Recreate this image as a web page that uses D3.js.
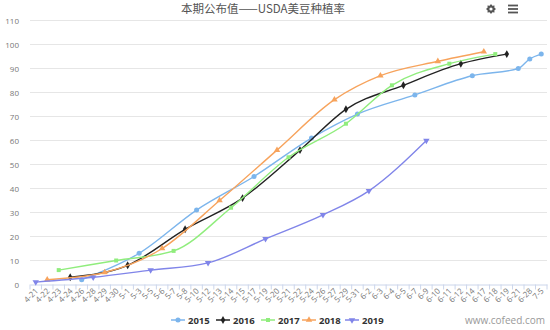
<!DOCTYPE html>
<html><head><meta charset="utf-8">
<script src="https://cdn.jsdelivr.net/npm/d3@7"></script>
<style>html,body{margin:0;padding:0;background:#fff;}svg{display:block;}</style>
</head><body>
<svg id="chart" width="550" height="330"></svg>
<script>
const categories = ["4-21","4-22","4-23","4-24","4-26","4-28","4-29","4-30","5-1","5-3","5-5","5-6","5-7","5-8","5-10","5-12","5-13","5-14","5-15","5-17","5-19","5-20","5-21","5-22","5-24","5-26","5-27","5-29","5-31","6-2","6-3","6-4","6-5","6-7","6-9","6-10","6-11","6-12","6-14","6-17","6-18","6-19","6-21","6-28","7-5"];
const yTicks = [0,10,20,30,40,50,60,70,80,90,100,110];
const seriesNames = ["2015","2016","2017","2018","2019"];
const dates2015 = ["4-26","5-3","5-10","5-17","5-24","5-31","6-7","6-14","6-21","6-28","7-5"];
const values2015 = [2,13,31,45,61,71,79,87,90,94,96];
const dates2016 = ["4-24","5-1","5-8","5-15","5-22","5-29","6-5","6-12","6-19"];
const values2016 = [3,8,23,36,56,73,83,92,96];
const dates2017 = ["4-23","4-30","5-7","5-14","5-21","5-29","6-4","6-11","6-18"];
const values2017 = [6,10,14,32,53,67,83,92,96];
const dates2018 = ["4-22","4-29","5-6","5-13","5-20","5-27","6-3","6-10","6-17"];
const values2018 = [2,5,15,35,56,77,87,93,97];
const dates2019 = ["4-21","4-28","5-5","5-12","5-19","5-26","6-2","6-9"];
const values2019 = [1,3,6,9,19,29,39,60];
const colors = ["#7cb5ec","#222222","#90ed7d","#f7a35c","#8085e9"];
const titleText = "本期公布值——USDA美豆种植率";
const watermark = "www.cofeed.com";

(function(){
const seriesDates = [dates2015,dates2016,dates2017,dates2018,dates2019];
const seriesValues = [values2015,values2016,values2017,values2018,values2019];
const symbols = [d3.symbolCircle,d3.symbolDiamond,d3.symbolSquare,d3.symbolTriangle,d3.symbolTriangle];
const symRot = [0,0,0,0,180];
const symSize = [20,18,16,18,18];

const svg = d3.select("#chart");
const pLeft = 30, pRight = 547, pTop = 20.5, pBottom = 284.5;
const x = d3.scaleBand().domain(categories).range([pLeft,pRight]).padding(0);
const y = d3.scaleLinear().domain([0,110]).range([pBottom,pTop]);
const cx = d => x(d) + x.bandwidth()/2;

// title
svg.append("text").attr("x",263).attr("y",13).attr("text-anchor","middle")
  .attr("font-family","'Noto Sans CJK SC', sans-serif").attr("font-size",11.5)
  .attr("fill","#555").text(titleText);

// gear icon
const gear = svg.append("g").attr("transform","translate(491,9)");
gear.append("path").attr("d", (()=>{
  let p=""; const n=8;
  for(let i=0;i<n*2;i++){const a=i*Math.PI/n; const r=(i%2===0)?5:3.6; p+=(i?"L":"M")+(r*Math.cos(a)).toFixed(2)+","+(r*Math.sin(a)).toFixed(2);}
  return p+"Z";})()).attr("fill","#555");
gear.append("circle").attr("r",1.6).attr("fill","#fff");
// hamburger
[-3.5,0,3.5].forEach(o=>svg.append("rect").attr("x",508).attr("y",9+o-0.9).attr("width",10).attr("height",1.8).attr("fill","#555"));

// gridlines & y labels
const g = svg.append("g");
yTicks.forEach(t=>{
  if(t>0) g.append("line").attr("x1",pLeft).attr("x2",pRight).attr("y1",y(t)).attr("y2",y(t)).attr("stroke","#e6e6e6").attr("stroke-width",1);
  g.append("text").attr("x",19).attr("y",y(t)+3).attr("text-anchor","end")
    .attr("font-family","'Open Sans', sans-serif").attr("font-size",8).attr("fill","#777").text(t);
});

// x axis
const xAxis = d3.axisBottom(x).tickSize(0).tickPadding(0);
const xg = svg.append("g").attr("transform",`translate(0,${pBottom})`).call(xAxis);
xg.select(".domain").attr("stroke","#ccd6eb");
xg.selectAll(".tick text").attr("font-family","'Open Sans', sans-serif").attr("font-size",8).attr("fill","#777")
  .attr("text-anchor","end").attr("dy",0).attr("transform","translate(3,7) rotate(-45)");
// tick marks between categories
categories.concat(["_end"]).forEach((c,i)=>{
  const px = pLeft + i*x.bandwidth();
  svg.append("line").attr("x1",px).attr("x2",px).attr("y1",pBottom).attr("y2",pBottom+5).attr("stroke","#ccd6eb");
});

// series
const line = d3.line().x(d=>cx(d[0])).y(d=>y(d[1])).curve(d3.curveMonotoneX);
seriesNames.forEach((name,i)=>{
  const data = seriesDates[i].map((d,j)=>[d,seriesValues[i][j]]);
  svg.append("path").datum(data).attr("d",line).attr("fill","none").attr("stroke",colors[i]).attr("stroke-width",1.4);
  svg.selectAll(null).data(data).enter().append("path")
    .attr("d",d3.symbol().type(symbols[i]).size(symSize[i]))
    .attr("transform",d=>`translate(${cx(d[0])},${y(d[1])}) rotate(${symRot[i]})`)
    .attr("fill",colors[i]);
});

// legend
const legX = [178,223,268,309,352];
seriesNames.forEach((name,i)=>{
  const lg = svg.append("g").attr("transform",`translate(${legX[i]},320)`);
  lg.append("line").attr("x1",-7).attr("x2",7).attr("stroke",colors[i]).attr("stroke-width",1.5);
  lg.append("path").attr("d",d3.symbol().type(symbols[i]).size(symSize[i])).attr("transform",`rotate(${symRot[i]})`).attr("fill",colors[i]);
  lg.append("text").attr("x",10).attr("y",3.5).attr("font-family","'Open Sans', sans-serif").attr("font-weight","bold")
    .attr("font-size",9.5).attr("fill","#333").text(name);
});

// watermark
svg.append("text").attr("x",545).attr("y",324).attr("text-anchor","end").attr("font-family","'Open Sans', sans-serif")
  .attr("font-size",10).attr("fill","#999").text(watermark);
})();
</script>
</body></html>
